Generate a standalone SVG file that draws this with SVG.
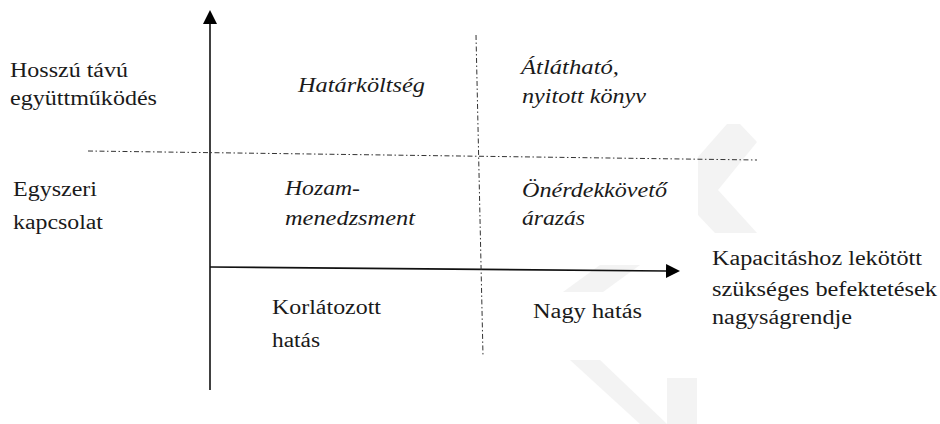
<svg xmlns="http://www.w3.org/2000/svg" width="940" height="424" viewBox="0 0 940 424">
<defs>
<style>
.t{font-family:'Liberation Serif','Times New Roman',serif;font-size:20px;fill:#1a1a1a}
.i{font-style:italic}
.ax{stroke:#111;stroke-width:1.6;fill:none}
.dd{stroke:#333;stroke-width:1;fill:none;stroke-dasharray:5 2.5 1.5 2.5}
.wm{fill:#f3f3f3}
</style>
<marker id="ah" markerUnits="userSpaceOnUse" markerWidth="14" markerHeight="14" viewBox="0 0 12 12" refX="0" refY="6" orient="auto">
<path d="M0,0 L12,6 L0,12 Z" fill="#000"/>
</marker>
</defs>
<rect width="940" height="424" fill="#fff"/>
<g id="watermark">
<polygon class="wm" points="698,157 727,124 740,124 757,142 718,190 757,233 715,233 698,215"/>
<polygon class="wm" points="600,265 640,265 603,292 563,292"/>
<polygon class="wm" points="570,360 600,360 667,424 640,424"/>
<polygon class="wm" points="667,378 697,378 697,424 667,424"/>
</g>
<g id="connectors">
<line class="ax" x1="210" y1="390" x2="210" y2="24" marker-end="url(#ah)"/>
<line class="ax" x1="210" y1="267" x2="666" y2="271" marker-end="url(#ah)"/>
<line class="dd" x1="88" y1="151" x2="757" y2="160"/>
<line class="dd" x1="476" y1="35" x2="483" y2="356"/>
</g>
<g id="row-long">
<text class="t" x="10" y="77" textLength="118" lengthAdjust="spacingAndGlyphs">Hosszú távú</text>
<text class="t" x="10" y="105" textLength="147" lengthAdjust="spacingAndGlyphs">együttműködés</text>
</g>
<g id="row-single">
<text class="t" x="13" y="196" textLength="84" lengthAdjust="spacingAndGlyphs">Egyszeri</text>
<text class="t" x="13" y="229" textLength="90" lengthAdjust="spacingAndGlyphs">kapcsolat</text>
</g>
<g id="q-top-left">
<text class="t i" x="298" y="92" textLength="127" lengthAdjust="spacingAndGlyphs">Határköltség</text>
</g>
<g id="q-top-right">
<text class="t i" x="521" y="74" textLength="98" lengthAdjust="spacingAndGlyphs">Átlátható,</text>
<text class="t i" x="522" y="103" textLength="124" lengthAdjust="spacingAndGlyphs">nyitott könyv</text>
</g>
<g id="q-bottom-left">
<text class="t i" x="285" y="195" textLength="75" lengthAdjust="spacingAndGlyphs">Hozam-</text>
<text class="t i" x="285" y="225" textLength="130" lengthAdjust="spacingAndGlyphs">menedzsment</text>
</g>
<g id="q-bottom-right">
<text class="t i" x="522" y="197" textLength="145" lengthAdjust="spacingAndGlyphs">Önérdekkövető</text>
<text class="t i" x="522" y="225" textLength="63" lengthAdjust="spacingAndGlyphs">árazás</text>
</g>
<g id="col-limited">
<text class="t" x="272" y="314" textLength="109" lengthAdjust="spacingAndGlyphs">Korlátozott</text>
<text class="t" x="272" y="347" textLength="48" lengthAdjust="spacingAndGlyphs">hatás</text>
</g>
<g id="col-large">
<text class="t" x="533" y="318" textLength="109" lengthAdjust="spacingAndGlyphs">Nagy hatás</text>
</g>
<g id="x-label">
<text class="t" x="712" y="265" textLength="210" lengthAdjust="spacingAndGlyphs">Kapacitáshoz lekötött</text>
<text class="t" x="712" y="296" textLength="225" lengthAdjust="spacingAndGlyphs">szükséges befektetések</text>
<text class="t" x="712" y="324" textLength="140" lengthAdjust="spacingAndGlyphs">nagyságrendje</text>
</g>
</svg>
